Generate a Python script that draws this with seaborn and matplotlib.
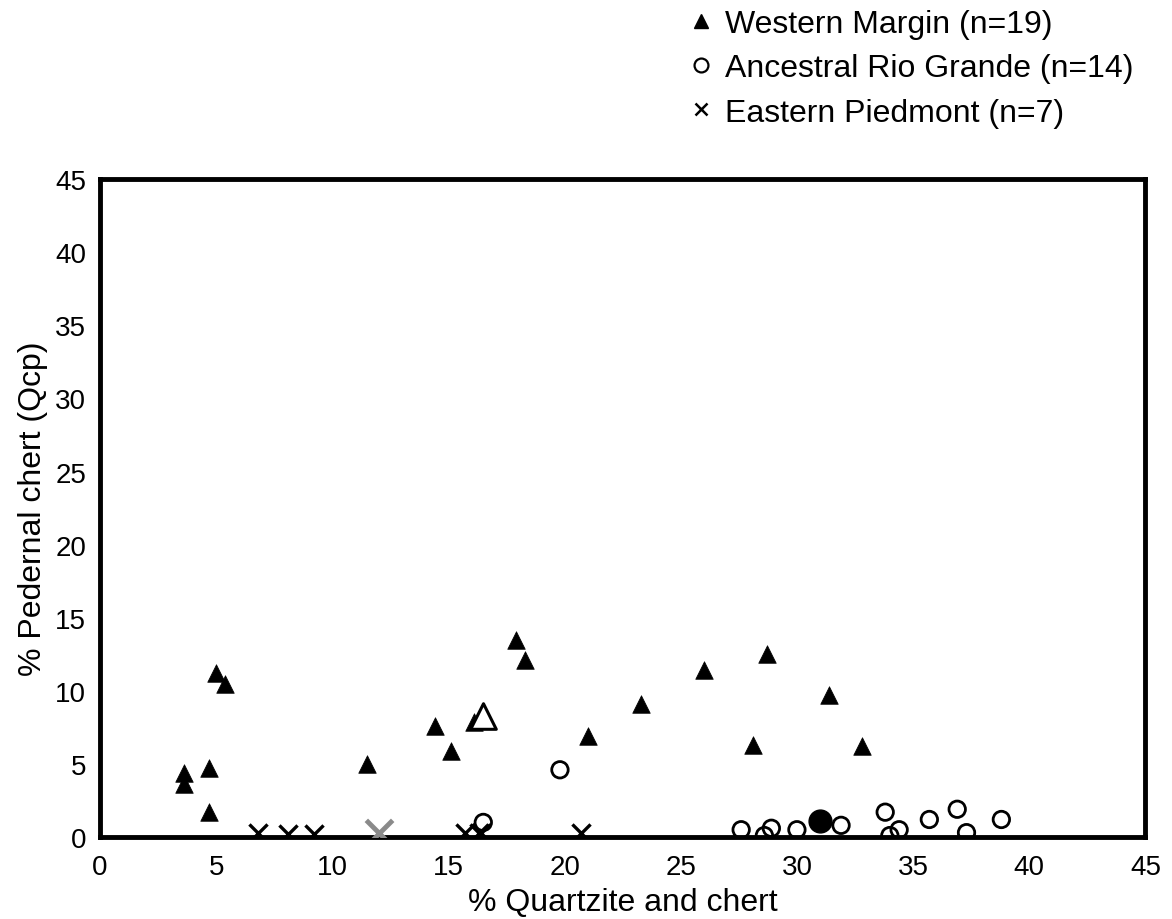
import matplotlib
matplotlib.use("Agg")
import matplotlib.pyplot as plt
import seaborn as sns
import pandas as pd
from matplotlib.lines import Line2D

# Western Margin (n=19)
wm_x = [5.0, 5.4, 3.6, 3.6, 4.7, 4.7, 11.5, 14.4, 15.1, 16.1, 17.9, 18.3, 21.0, 23.3, 26.0, 28.7, 28.1, 31.4, 32.8]
wm_y = [11.2, 10.5, 4.4, 3.6, 4.7, 1.7, 5.0, 7.6, 5.9, 7.9, 13.5, 12.1, 6.9, 9.1, 11.4, 12.5, 6.3, 9.7, 6.2]
# Ancestral Rio Grande (n=14)
arg_x = [19.8, 16.5, 27.6, 28.6, 28.9, 30.0, 31.9, 33.8, 34.0, 34.4, 35.7, 36.9, 37.3, 38.8]
arg_y = [4.6, 1.0, 0.5, 0.1, 0.6, 0.5, 0.8, 1.7, 0.1, 0.5, 1.2, 1.9, 0.3, 1.2]
# Eastern Piedmont (n=7)
ep_x = [6.8, 8.1, 9.2, 15.7, 16.3, 16.4, 20.7]
ep_y = [0.3, 0.2, 0.2, 0.3, 0.3, 0.3, 0.3]
# group means
mean_x = [16.5, 31.0, 12.0]
mean_y = [8.3, 1.1, 0.3]

labels = ["Western Margin (n=19)", "Ancestral Rio Grande (n=14)", "Eastern Piedmont (n=7)"]
x_ticks = [0, 5, 10, 15, 20, 25, 30, 35, 40, 45]
y_ticks = [0, 5, 10, 15, 20, 25, 30, 35, 40, 45]

sns.set_style("white")
plt.rcParams['font.family'] = ['Liberation Sans', 'DejaVu Sans']
plt.rcParams['text.color'] = 'black'
plt.rcParams['axes.labelcolor'] = 'black'
plt.rcParams['xtick.color'] = 'black'
plt.rcParams['ytick.color'] = 'black'

fig = plt.figure(figsize=(11.72, 9.2), dpi=100)
ax = fig.add_axes([0.0853, 0.0891, 0.892, 0.715])

wm = pd.DataFrame({"x": wm_x, "y": wm_y})
arg = pd.DataFrame({"x": arg_x, "y": arg_y})
ep = pd.DataFrame({"x": ep_x, "y": ep_y})

sns.scatterplot(data=wm, x="x", y="y", marker="^", s=160, color="black", edgecolor="black", linewidth=0.5, ax=ax, zorder=3)
sns.scatterplot(data=arg, x="x", y="y", marker="o", s=140, facecolor="none", edgecolor="black", linewidth=2.0, ax=ax, zorder=3)
sns.scatterplot(data=ep, x="x", y="y", marker="x", s=170, color="black", linewidth=2.4, ax=ax, zorder=3)

# means
ax.scatter([mean_x[0]], [mean_y[0]], marker="^", s=340, facecolor="white", edgecolor="black", linewidth=2.2, zorder=4)
ax.scatter([mean_x[1]], [mean_y[1]], marker="o", s=270, color="black", zorder=4)
ax.scatter([mean_x[2]], [mean_y[2]], marker="x", s=360, color="#8a8a8a", linewidth=3.5, zorder=4)

ax.set_xlim(0, 45)
ax.set_ylim(0, 45)
ax.set_xticks(x_ticks)
ax.set_yticks(y_ticks)
ax.set_xticklabels([str(t) for t in x_ticks], fontsize=20)
ax.set_yticklabels([str(t) for t in y_ticks], fontsize=20)
ax.tick_params(axis="both", direction="out", length=7, width=3.2, color="black", pad=3, labelcolor="black")
ax.tick_params(axis="x", pad=5)
for sp in ax.spines.values():
    sp.set_visible(True)
    sp.set_linewidth(3.5)
    sp.set_color("black")

ax.set_xlabel("% Quartzite and chert", fontsize=23, color="black")
ax.set_ylabel("% Pedernal chert (Qcp)", fontsize=23, color="black")
ax.xaxis.set_label_coords(0.5, -0.076)
ax.yaxis.set_label_coords(-0.05, 0.5)

handles = [
    Line2D([], [], marker="^", linestyle="none", color="black", markersize=10),
    Line2D([], [], marker="o", linestyle="none", markerfacecolor="none", markeredgecolor="black", markeredgewidth=1.6, markersize=10),
    Line2D([], [], marker="x", linestyle="none", color="black", markeredgewidth=1.8, markersize=9),
]
fig.legend(handles, labels, loc="upper left", bbox_to_anchor=(0.583, 0.9945), frameon=False,
           fontsize=23, handletextpad=0.35, labelspacing=0.45, handlelength=0.8, borderaxespad=0, borderpad=0.15)

fig.savefig("out.png", dpi=100, facecolor="white")
